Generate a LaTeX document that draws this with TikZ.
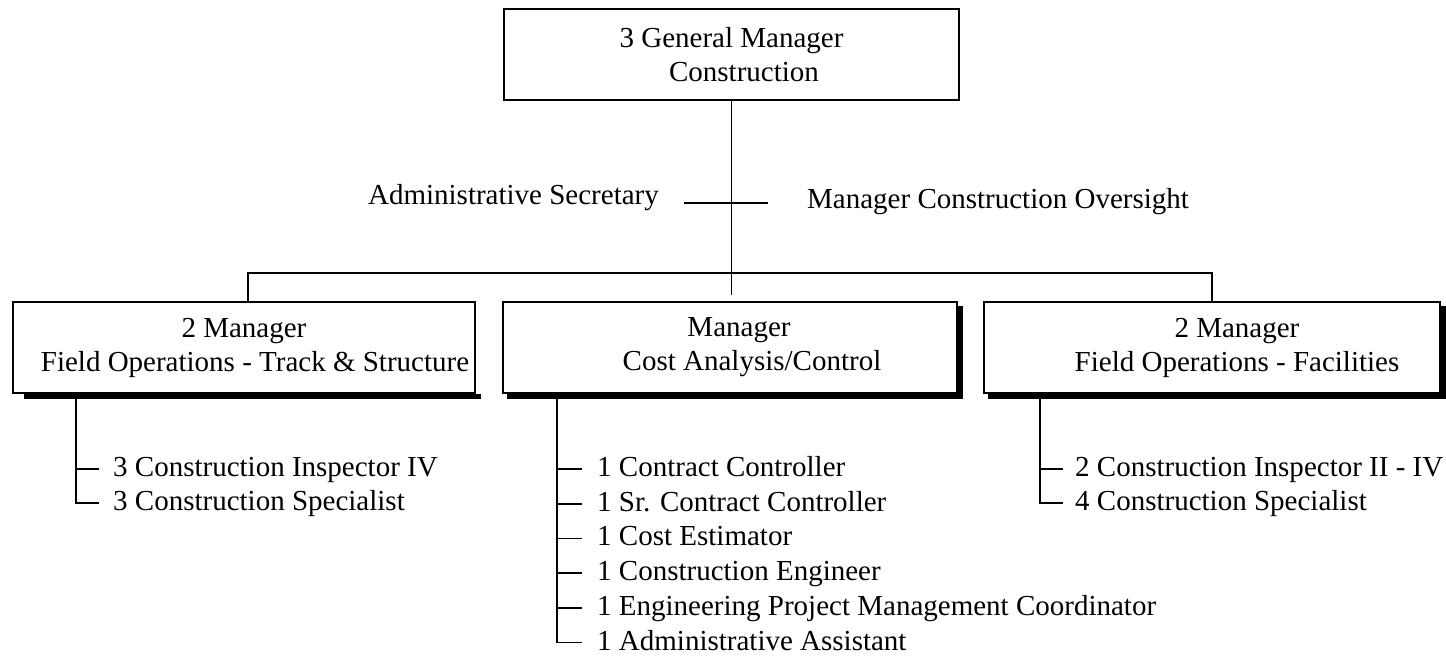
\documentclass[tikz,border=0pt]{standalone}
\usepackage{fontspec}
\setmainfont{Liberation Serif}
\usetikzlibrary{backgrounds}
\begin{document}
\begin{tikzpicture}[x=1bp,y=-1bp,
  every node/.style={font=\fontsize{29bp}{34bp}\selectfont, inner sep=0pt},
  box/.style={draw, line width=1.6bp, fill=white, align=center, minimum height=91bp},
  item/.style={anchor=base west, text height=21bp, text depth=6bp},
  conn/.style={line width=1.6bp},
  shade/.style={fill=black}]
\useasboundingbox (0,0) rectangle (1446,658);

% boxes
\node[box, minimum width=455bp] (top) at (731.5,54.5) {3 General Manager\\\hspace*{25bp}Construction};
\node[box, minimum width=462bp] (lb) at (244,347.5) {2 Manager\\\hspace*{22bp}Field Operations - Track \& Structure};
\node[box, minimum width=454bp] (mb) at (730,347.5) {\hspace*{18bp}Manager\\\hspace*{44bp}Cost Analysis/Control};
\node[box, minimum width=456bp] (rb) at (1212,347.5) {\hspace*{50bp}2 Manager\\\hspace*{50bp}Field Operations - Facilities};

% shadows
\begin{scope}[on background layer]
  \fill[shade] ([shift={(12,0)}]lb.south west) rectangle ([shift={(5,5)}]lb.south east);
  \fill[shade] ([shift={(5,5)}]mb.south west) rectangle ([shift={(5,5)}]mb.north east);
  \fill[shade] ([shift={(5,5)}]rb.south west) rectangle ([shift={(5,5)}]rb.north east);
\end{scope}

% staff texts
\node[anchor=base east] (sec) at (659,204) {Administrative Secretary};
\node[anchor=base west] (ovs) at (807,208) {Manager Construction Oversight};
\coordinate (s1) at (684,203);
\coordinate (s2) at (768,203);
\coordinate (mtop) at (731.5,295);

% main connectors
\draw[conn] (top.south) -- (mtop);
\draw[conn] (s1) -- (s2);
\draw[conn] ([shift={(4,0)}]lb.north) -- ++(0,-28) -| (rb.north);

% left list
\node[item] (l1) at (113,476.5) {3 Construction Inspector IV};
\node[item] (l2) at (113,510.5) {3 Construction Specialist};
\coordinate (lt) at ([shift={(64,0)}]lb.south west);
\draw[conn] (lt) |- ([shift={(-14,0)}]l2.west);
\draw[conn] (l1.west -| lt) -- ([shift={(-14,0)}]l1.west);

% middle list
\node[item] (m1) at (597,476.5) {1 Contract Controller};
\node[item] (m2) at (597,511.2) {1 Sr. Contract Controller};
\node[item] (m3) at (597,545.9) {1 Cost Estimator};
\node[item] (m4) at (597,580.6) {1 Construction Engineer};
\node[item] (m5) at (597,615.3) {1 Engineering Project Management Coordinator};
\node[item] (m6) at (597,650) {1 Administrative Assistant};
\coordinate (mt) at ([shift={(55,0)}]mb.south west);
\draw[conn] (mt) |- ([shift={(-15,0)}]m6.west);
\foreach \i in {1,...,5}{
  \draw[conn] (m\i.west -| mt) -- ([shift={(-15,0)}]m\i.west);
}

% right list
\node[item] (r1) at (1075,476.5) {2 Construction Inspector II - IV};
\node[item] (r2) at (1075,510.5) {4 Construction Specialist};
\coordinate (rt) at ([shift={(57,0)}]rb.south west);
\draw[conn] (rt) |- ([shift={(-12,0)}]r2.west);
\draw[conn] (r1.west -| rt) -- ([shift={(-12,0)}]r1.west);
\end{tikzpicture}
\end{document}
